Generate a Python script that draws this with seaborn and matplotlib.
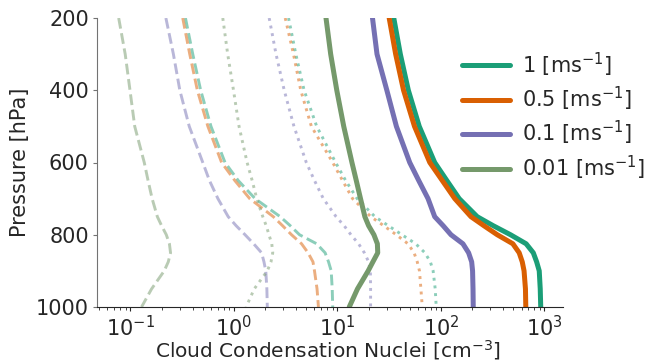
import numpy as np
import pandas as pd
import matplotlib
matplotlib.use("Agg")
import matplotlib.pyplot as plt
import seaborn as sns

sns.set_style("ticks")
plt.rcParams['font.family'] = ['DejaVu Sans']

pressure = [200, 300, 400, 500, 600, 650, 700, 750, 775, 800, 825, 850, 875, 900, 950, 1000]

labels = ["1 [ms$^{-1}$]", "0.5 [ms$^{-1}$]", "0.1 [ms$^{-1}$]", "0.01 [ms$^{-1}$]"]
colors = ["#1b9e77", "#d95f02", "#7570b3", "#75996b"]

# solid lines
solid_1 = [35, 40.5, 48.4, 61.7, 87, 114, 150, 224, 320, 470, 665, 780, 840, 890, 910, 920]
solid_05 = [31.6, 36.5, 43.5, 55.5, 78, 103, 136, 195, 260, 350, 495, 570, 610, 635, 655, 660]
solid_01 = [21.8, 24.1, 30.0, 37.1, 49.9, 61, 75, 87, 105, 125, 163, 185, 198, 202, 204, 205]
solid_001 = [7.75, 8.6, 9.85, 11.5, 13.8, 15.2, 16.7, 18.4, 20.0, 22.5, 24.3, 24.5, 22.0, 19.8, 15.6, 13.0]

# dashed lines
dashed_1 = [0.34, 0.40, 0.477, 0.60, 0.82, 1.1, 1.6, 2.8, 3.5, 4.3, 6.3, 7.6, 8.2, 8.7, 8.9, 9.0]
dashed_05 = [0.32, 0.374, 0.443, 0.56, 0.76, 1.02, 1.42, 2.4, 2.95, 3.6, 4.5, 5.2, 5.8, 6.0, 6.35, 6.55]
dashed_01 = [0.22, 0.26, 0.30, 0.37, 0.50, 0.58, 0.70, 0.88, 1.05, 1.28, 1.55, 1.85, 1.95, 2.03, 2.08, 2.1]
dashed_001 = [0.077, 0.089, 0.099, 0.11, 0.136, 0.148, 0.162, 0.182, 0.20, 0.222, 0.238, 0.244, 0.232, 0.212, 0.16, 0.128]

# dotted lines
dotted_1 = [3.37, 3.96, 4.76, 6.3, 9.6, 12, 15.5, 23, 31, 42, 57, 70, 79, 84, 88, 90]
dotted_05 = [3.13, 3.76, 4.42, 5.6, 9.0, 11.2, 14, 21, 28, 37, 48, 55, 59, 62, 64, 66]
dotted_01 = [2.19, 2.55, 3.06, 3.8, 5.0, 6.0, 7.3, 9.7, 11.6, 13.5, 16, 18.2, 20, 20.8, 20.9, 20.9]
dotted_001 = [0.78, 0.87, 0.99, 1.12, 1.34, 1.5, 1.66, 1.9, 2.05, 2.18, 2.32, 2.37, 2.28, 2.1, 1.57, 1.31]

solid = [solid_1, solid_05, solid_01, solid_001]
dashed = [dashed_1, dashed_05, dashed_01, dashed_001]
dotted = [dotted_1, dotted_05, dotted_01, dotted_001]

fig = plt.figure(figsize=(6.46, 3.61), dpi=100)
ax = fig.add_axes([96.5/646, 1-307/361, (563-96.5)/646, (307-18)/361])

for i in range(4):
    df_d = pd.DataFrame({"ccn": dashed[i], "p": pressure})
    sns.lineplot(data=df_d, x="ccn", y="p", orient="y", ax=ax, color=colors[i],
                 lw=2.1, ls="--", alpha=0.5, legend=False)
    df_o = pd.DataFrame({"ccn": dotted[i], "p": pressure})
    sns.lineplot(data=df_o, x="ccn", y="p", orient="y", ax=ax, color=colors[i],
                 lw=2.1, ls=":", alpha=0.5, legend=False)

handles = []
for i in range(4):
    df_s = pd.DataFrame({"ccn": solid[i], "p": pressure})
    sns.lineplot(data=df_s, x="ccn", y="p", orient="y", ax=ax, color=colors[i],
                 lw=3.6, legend=False)
    handles.append(ax.lines[-1])

ax.set_xscale("log")
ax.set_xlim(0.047, 1510)
ax.set_ylim(1000, 200)
ax.set_yticks([200, 400, 600, 800, 1000])
ax.tick_params(labelsize=15, pad=2.5, length=3)
ax.tick_params(axis="x", which="minor", length=2)
ax.set_xlabel("Cloud Condensation Nuclei [cm$^{-3}$]", fontsize=14.5)
ax.xaxis.set_label_coords(0.495, -0.107)
ax.set_ylabel("Pressure [hPa]", fontsize=15, labelpad=4)
sns.despine(ax=ax)
ax.spines["left"].set_color("0.45")
ax.tick_params(axis="y", color="0.45")

ax.legend(handles, labels, loc="upper left", bbox_to_anchor=(454/646, 1-42/361),
          bbox_transform=fig.transFigure, frameon=False, fontsize=15,
          handlelength=2.3, handletextpad=0.55, labelspacing=0.3, borderaxespad=0)

fig.savefig("out.png", dpi=100)
